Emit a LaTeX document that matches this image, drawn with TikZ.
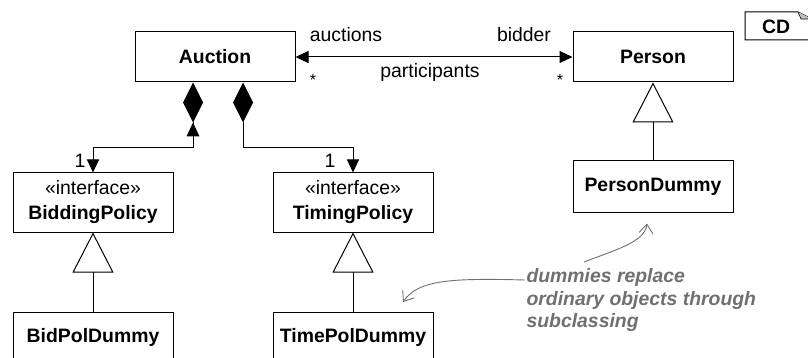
\documentclass[tikz,border=0pt]{standalone}
\usepackage{fontspec}
\setmainfont{Liberation Sans}
\usetikzlibrary{arrows.meta}
\definecolor{notegray}{RGB}{112,112,112}
\newcommand\dsz{\fontsize{19.4}{25}\selectfont}
\begin{document}
\begin{tikzpicture}[x=1pt,y=-1pt, line width=1pt, font=\dsz,
  cls/.style={draw, fill=white, minimum width=160pt, inner sep=0pt, align=center, font=\dsz\bfseries},
  lbl/.style={inner sep=0pt, font=\dsz},
  star/.style={inner sep=0pt, font=\fontsize{16}{18}\selectfont},
  nav/.style={-{Triangle[length=13pt,width=12pt]}},
  gen/.style={-{Triangle[open,length=40pt,width=41pt]}},
  notetxt/.style={inner sep=0pt, align=left, text=notegray, font=\fontsize{19.4}{22.5}\selectfont\bfseries\itshape},
  notearrow/.style={draw=notegray, line width=0.9pt, -{Straight Barb[length=9pt,width=14pt]}}
]
\useasboundingbox (0,0) rectangle (808,358);

% classes
\node[cls, minimum height=50pt] (auction) at (215,57) {Auction};
\node[cls, minimum height=50pt] (person) at (653,57) {Person};
\node[cls, minimum height=59pt] (bidding) at (93,202.5) {\mdseries «interface»\\ BiddingPolicy};
\node[cls, minimum height=59pt] (timing) at (353,202.5) {\mdseries «interface»\\ TimingPolicy};
\node[cls, minimum height=51pt] (persondummy) at (653,186.5) {PersonDummy};
\node[cls, minimum height=50pt] (bidpoldummy) at (93,337) {BidPolDummy};
\node[cls, minimum height=50pt] (timepoldummy) at (353,337) {TimePolDummy};

% association
\draw[{Triangle[length=13pt,width=12pt]}-{Triangle[length=13pt,width=12pt]}] (auction.east) -- (person.west);
\node[lbl] (lauctions) at (346,35) {auctions};
\node[lbl] (lbidder) at (524,35) {bidder};
\node[lbl] (lpart) at (430,72) {participants};
\node[star] (s1) at (313,80) {*};
\node[star] (s2) at (560,80) {*};

% compositions
\coordinate (d1) at ([xshift=-22pt]auction.south);
\coordinate (d2) at ([xshift=28pt]auction.south);
\path (d1) ++(0,40) coordinate (d1b);
\path (d2) ++(0,40) coordinate (d2b);
\fill (d1) -- ++(10,20) -- ++(-10,20) -- ++(-10,-20) -- cycle;
\fill (d2) -- ++(10,20) -- ++(-10,20) -- ++(-10,-20) -- cycle;
\fill (d1b) -- ++(6.5,14) -- ++(-13,0) -- cycle;
\draw[nav] (d1b) -- ++(0,25) -| (bidding.north);
\draw[nav] (d2b) -- ++(0,25) -| (timing.north);
\node[lbl] (one1) at (80,161) {1};
\node[lbl] (one2) at (330,161) {1};

% generalizations
\draw[gen] (bidpoldummy.north) -- (bidding.south);
\draw[gen] (timepoldummy.north) -- (timing.south);
\draw[gen] (persondummy.north) -- (person.south);

% note
\node[notetxt, anchor=west] (note) at (526,300) {dummies replace\\ordinary objects through\\subclassing};
\coordinate (n1) at (584,262);
\coordinate (n2) at (525,280);
\coordinate (pdt) at ([xshift=-6pt,yshift=-11pt]persondummy.south);
\coordinate (tpt) at (403,302);
\draw[notearrow] (n1) .. controls (615,250) and (645,242) .. (pdt);
\draw[notearrow] (n2) .. controls (450,278) and (418,280) .. (tpt);

% diagram tag
\draw[fill=white] (745,12) -- (798,12) -- (812,19) -- (812,40) -- (745,40) -- cycle;
\filldraw[fill=black!25, line width=0.6pt] (798,12) -- (801,19) -- (812,19);
\node[inner sep=0pt, font=\dsz\bfseries] (cd) at (776,27) {CD};
\end{tikzpicture}
\end{document}
